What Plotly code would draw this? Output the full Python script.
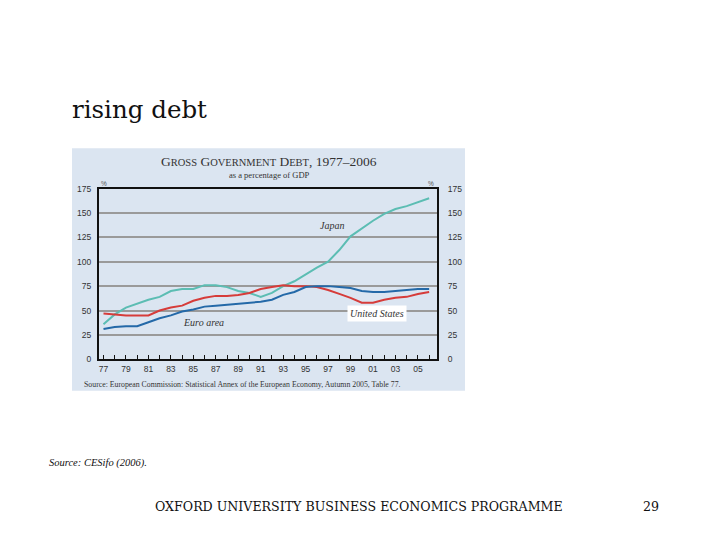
import plotly.graph_objects as go

years = list(range(1977, 2007))
japan = [36, 46, 53, 57, 61, 64, 70, 72, 72, 76, 76, 74, 70, 68, 64, 68, 75, 80, 87, 94,
         100, 112, 126, 134, 142, 149, 154, 157, 161, 165]
euro = [31, 33, 34, 34, 38, 42, 45, 49, 51, 54, 55, 56, 57, 58, 59, 61, 66, 69, 74, 75,
        75, 74, 73, 70, 69, 69, 70, 71, 72, 72]
us = [47, 46, 45, 45, 45, 50, 53, 55, 60, 63, 65, 65, 66, 68, 72, 74, 76, 75, 75, 74,
      71, 67, 63, 58, 58, 61, 63, 64, 67, 69]
y_ticks = [0, 25, 50, 75, 100, 125, 150, 175]
x_labels = ["77", "", "79", "", "81", "", "83", "", "85", "", "87", "", "89", "", "91", "",
            "93", "", "95", "", "97", "", "99", "", "01", "", "03", "", "05", ""]

W, H = 720, 540
def px(x):
    return x / W
def py(y):
    return 1 - y / H

JAPAN_C = "#5cbdb3"
EURO_C = "#2469a8"
US_C = "#d63c3a"

fig = go.Figure()
fig.add_trace(go.Scatter(x=years, y=japan, mode="lines", line=dict(color=JAPAN_C, width=2),
                         name="Japan", showlegend=False))
fig.add_trace(go.Scatter(x=years, y=us, mode="lines", line=dict(color=US_C, width=2),
                         name="United States", showlegend=False))
fig.add_trace(go.Scatter(x=years, y=euro, mode="lines", line=dict(color=EURO_C, width=2),
                         name="Euro area", showlegend=False))
fig.add_trace(go.Scatter(x=[years[0]], y=[0], yaxis="y2", mode="markers",
                         marker=dict(opacity=0), showlegend=False, hoverinfo="skip"))

tickfont = dict(family="Liberation Sans, Arial", size=8.5, color="#333")
fig.update_layout(
    width=W, height=H,
    margin=dict(l=0, r=0, t=0, b=0),
    paper_bgcolor="white",
    plot_bgcolor="white",
    xaxis=dict(domain=[px(99), px(437)], range=[1976.6, 2006.7],
               tickvals=years, ticktext=x_labels, ticks="inside", ticklen=4,
               tickcolor="#111", tickwidth=1, tickfont=tickfont,
               showgrid=False, zeroline=False, showline=True, linecolor="#111",
               linewidth=2, mirror=True, fixedrange=True),
    yaxis=dict(domain=[py(361), py(187)], range=[0, 175], tickvals=y_ticks,
               tickfont=tickfont, showgrid=True, gridcolor="#9a9a9a", gridwidth=1.5,
               zeroline=False, showline=True, linecolor="#111", linewidth=2,
               ticks="", ticklabelstandoff=4),
    yaxis2=dict(overlaying="y", side="right", range=[0, 175], tickvals=y_ticks,
                tickfont=tickfont, showgrid=False, zeroline=False, showline=True,
                linecolor="#111", linewidth=2, ticks="", ticklabelstandoff=7),
)

# light-blue panel behind the chart
fig.add_shape(type="rect", xref="paper", yref="paper", x0=px(72), x1=px(465),
              y0=py(393), y1=py(146), fillcolor="#dbe5f1", line=dict(width=0), layer="below")

sc = "<span style='font-size:10.5px'>"
anns = [
    dict(x=px(269), y=py(159), text=f"G{sc}ROSS</span> G{sc}OVERNMENT</span> D{sc}EBT</span>, 1977–2006",
         font=dict(family="Liberation Serif", size=13.5, color="#333"), xanchor="center"),
    dict(x=px(269), y=py(173), text="as a percentage of GDP",
         font=dict(family="Liberation Serif", size=8.5, color="#333"), xanchor="center"),
    dict(x=px(104), y=py(182), text="%", font=dict(family="Liberation Sans", size=6.5, color="#555"),
         xanchor="center"),
    dict(x=px(431), y=py(182), text="%", font=dict(family="Liberation Sans", size=6.5, color="#555"),
         xanchor="center"),
    dict(x=px(82), y=py(387), text="Source: European Commission: Statistical Annex of the European Economy, Autumn 2005, Table 77.",
         font=dict(family="Liberation Serif", size=7.8, color="#333"), xanchor="left"),
    dict(x=px(332), y=py(225), text="<i>Japan</i>",
         font=dict(family="Liberation Serif", size=10, color="#333"), xanchor="center"),
    dict(x=px(203), y=py(323), text="<i>Euro area</i>",
         font=dict(family="Liberation Serif", size=10, color="#333"), xanchor="center"),
    dict(x=px(377), y=py(314), text="<i>United States</i>",
         font=dict(family="Liberation Serif", size=10, color="#333"), xanchor="center",
         bgcolor="white", borderpad=2),
    dict(x=px(70), y=py(106), text="rising debt",
         font=dict(family="DejaVu Serif", size=24.5, color="#111"), xanchor="left"),
    dict(x=px(47), y=py(467), text="<i>Source: CESifo (2006).</i>",
         font=dict(family="Liberation Serif", size=10.5, color="#111"), xanchor="left"),
    dict(x=px(359), y=py(511), text="OXFORD UNIVERSITY BUSINESS ECONOMICS PROGRAMME",
         font=dict(family="DejaVu Serif", size=12.6, color="#111"), xanchor="center"),
    dict(x=px(651), y=py(511), text="29",
         font=dict(family="DejaVu Serif", size=12.6, color="#111"), xanchor="center"),
]
for a in anns:
    a.update(xref="paper", yref="paper", showarrow=False, yanchor="middle")
    fig.add_annotation(**a)

fig.write_html("out.html", config={"displayModeBar": False},
               post_script="document.body.style.margin='0';")
